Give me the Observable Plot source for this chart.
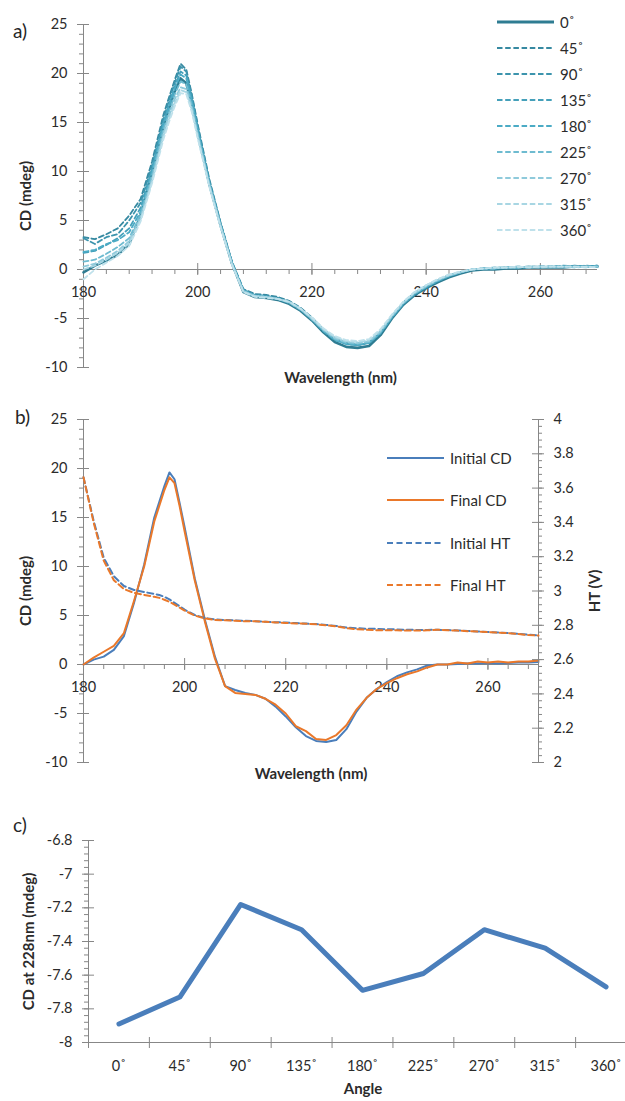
<!DOCTYPE html>
<html><head><meta charset="utf-8">
<script src="https://cdn.jsdelivr.net/npm/d3@7"></script>
<script src="https://cdn.jsdelivr.net/npm/@observablehq/plot@0.6"></script>
<style>
body{margin:0;background:#fff;font-family:Lato,"Open Sans",sans-serif;}
#wrap{position:relative;width:625px;height:1101px;overflow:hidden;background:#fff;}
.panel-label{position:absolute;font-size:19px;color:#262626;line-height:22px;}
.legend-row{position:absolute;display:flex;align-items:center;height:20px;font-size:15px;color:#2b2b2b;white-space:nowrap;}
</style></head><body><div id="wrap"></div><script>
// ---------------- DATA ----------------
const wavelengths = [180,182,184,186,188,190,192,194,195,196,197,198,199,200,202,204,206,208,210,212,214,216,218,220,222,224,226,228,230,232,234,236,238,240,242,244,246,248,250,252,254,256,258,260,262,264,266,268,270];

const angleLabels = ["0˚","45˚","90˚","135˚","180˚","225˚","270˚","315˚","360˚"];
const angles = [0,45,90,135,180,225,270,315,360];

// panel a: CD (mdeg) per rotation angle
const cd0   = [-0.3,0.4,0.9,1.5,2.6,5.5,9.8,14.6, 16.5,18.2,19.5,19.0,16.8, 14.0,8.8,4.5,0.6,-2.3,-2.8,-2.9,-3.1,-3.5,-4.2,-5.2,-6.4,-7.4,-7.9,-8.0,-7.8,-6.7,-5.0,-3.6,-2.6,-1.9,-1.3,-0.8,-0.4,-0.1,0.0,0.0,0.1,0.1,0.2,0.2,0.2,0.2,0.3,0.3,0.3];
const cd45  = [3.3,3.1,3.6,4.2,5.5,7.2,11.0,15.8, 17.6,19.4,21.0,20.4,17.8, 14.8,9.3,4.8,0.8,-2.0,-2.5,-2.6,-2.8,-3.2,-3.9,-4.9,-6.1,-7.0,-7.5,-7.7,-7.5,-6.5,-4.8,-3.4,-2.4,-1.7,-1.1,-0.6,-0.3,0.0,0.1,0.1,0.2,0.2,0.3,0.3,0.3,0.3,0.4,0.3,0.4];
const cd90  = [3.2,2.6,3.3,3.6,5.0,6.8,10.6,15.4, 17.3,19.1,20.7,20.2,17.6, 14.6,9.1,4.7,0.7,-2.1,-2.6,-2.7,-2.9,-3.3,-4.0,-5.0,-6.2,-7.1,-7.6,-7.7,-7.4,-6.4,-4.8,-3.4,-2.4,-1.7,-1.1,-0.6,-0.3,0.0,0.1,0.2,0.2,0.3,0.2,0.3,0.3,0.4,0.3,0.4,0.3];
const cd135 = [1.7,1.9,2.5,3.2,4.2,6.3,10.3,15.0, 16.9,18.7,20.2,19.8,17.3, 14.4,9.0,4.6,0.7,-2.1,-2.6,-2.7,-3.0,-3.3,-4.0,-5.0,-6.2,-7.1,-7.6,-7.7,-7.5,-6.5,-4.9,-3.5,-2.5,-1.8,-1.2,-0.7,-0.3,0.0,0.1,0.1,0.2,0.2,0.3,0.2,0.3,0.3,0.3,0.3,0.4];
const cd180 = [1.8,2.0,2.6,3.0,3.8,5.9,10.0,14.8, 16.7,18.5,19.9,19.5,17.1, 14.2,8.9,4.6,0.7,-2.2,-2.7,-2.8,-3.0,-3.4,-4.1,-5.1,-6.3,-7.2,-7.6,-7.7,-7.5,-6.5,-4.9,-3.5,-2.5,-1.8,-1.2,-0.7,-0.3,0.0,0.1,0.1,0.2,0.2,0.2,0.3,0.3,0.3,0.3,0.3,0.3];
const cd225 = [0.8,1.0,1.6,2.3,3.2,5.6,9.6,14.3, 16.1,17.9,19.2,18.9,16.7, 13.9,8.8,4.5,0.6,-2.2,-2.7,-2.8,-3.0,-3.4,-4.1,-5.1,-6.2,-7.1,-7.5,-7.6,-7.4,-6.4,-4.8,-3.4,-2.4,-1.7,-1.1,-0.6,-0.3,0.0,0.1,0.2,0.2,0.2,0.3,0.3,0.2,0.3,0.3,0.3,0.3];
const cd270 = [0.3,0.6,1.2,1.9,2.9,5.3,9.2,13.9, 15.7,17.4,18.6,18.4,16.4, 13.7,8.7,4.5,0.6,-2.2,-2.7,-2.8,-3.0,-3.3,-4.0,-5.0,-6.1,-7.0,-7.4,-7.5,-7.3,-6.3,-4.7,-3.4,-2.4,-1.7,-1.1,-0.6,-0.3,0.0,0.1,0.1,0.2,0.3,0.2,0.3,0.3,0.3,0.2,0.3,0.3];
const cd315 = [0.0,0.4,1.0,1.7,2.7,5.1,9.0,13.6, 15.4,17.0,18.3,18.1,16.2, 13.5,8.6,4.4,0.5,-2.3,-2.7,-2.8,-3.0,-3.3,-4.0,-5.0,-6.1,-6.9,-7.3,-7.4,-7.2,-6.2,-4.7,-3.3,-2.3,-1.6,-1.0,-0.6,-0.2,0.0,0.1,0.2,0.2,0.2,0.3,0.2,0.3,0.3,0.3,0.2,0.3];
const cd360 = [-1.0,0.0,0.7,1.4,2.4,4.9,8.8,13.3, 15.1,16.7,18.0,17.9,16.0, 13.4,8.5,4.3,0.5,-2.3,-2.8,-2.9,-3.0,-3.3,-4.0,-4.9,-6.0,-6.8,-7.2,-7.3,-7.1,-6.1,-4.6,-3.3,-2.3,-1.6,-1.0,-0.5,-0.2,0.0,0.1,0.2,0.2,0.3,0.2,0.3,0.3,0.3,0.3,0.3,0.2];
const aSeries = [cd0,cd45,cd90,cd135,cd180,cd225,cd270,cd315,cd360];

// panel b: CD (mdeg) and HT (V)
const initialCD = [0.0,0.5,0.8,1.5,2.9,6.3,10.2,15.0, 16.6,18.2,19.6,18.9,16.5, 14.0,8.8,4.6,0.8,-2.2,-2.6,-2.9,-3.1,-3.5,-4.3,-5.3,-6.4,-7.3,-7.8,-7.9,-7.7,-6.6,-4.8,-3.4,-2.5,-1.8,-1.2,-0.8,-0.5,-0.1,0.0,0.0,0.05,0.1,0.1,0.15,0.1,0.15,0.2,0.2,0.25];
const finalCD   = [0.0,0.7,1.3,1.9,3.2,6.5,10.0,14.6, 16.2,17.8,19.1,18.5,16.2, 13.6,8.6,4.4,0.6,-2.2,-2.9,-3.0,-3.1,-3.5,-4.1,-5.0,-6.3,-6.8,-7.6,-7.7,-7.2,-6.2,-4.6,-3.4,-2.5,-1.9,-1.4,-1.0,-0.7,-0.3,0.0,0.0,0.2,0.1,0.3,0.2,0.3,0.2,0.3,0.3,0.4];
const initialHT = [3.663,3.410,3.194,3.086,3.029,3.006,2.994,2.983, 2.977,2.966,2.951,2.931,2.911, 2.891,2.860,2.843,2.834,2.831,2.829,2.826,2.824,2.821,2.818,2.816,2.813,2.810,2.807,2.802,2.796,2.787,2.783,2.780,2.779,2.777,2.776,2.774,2.773,2.773,2.774,2.772,2.770,2.767,2.764,2.761,2.758,2.755,2.750,2.745,2.741];
const finalHT   = [3.663,3.400,3.177,3.063,3.011,2.989,2.977,2.966, 2.960,2.949,2.937,2.920,2.903, 2.886,2.857,2.840,2.831,2.829,2.826,2.823,2.823,2.820,2.817,2.814,2.811,2.809,2.806,2.800,2.794,2.783,2.777,2.774,2.771,2.771,2.771,2.769,2.769,2.771,2.774,2.771,2.769,2.766,2.763,2.760,2.757,2.754,2.749,2.743,2.740];
const bLabels = ["Initial CD","Final CD","Initial HT","Final HT"];

// panel c: CD at 228 nm per angle
const cdAt228 = [-7.89,-7.73,-7.18,-7.33,-7.69,-7.59,-7.33,-7.44,-7.67];

// ticks
const cdTicks = [-10,-5,0,5,10,15,20,25];
const wlTicks = [180,200,220,240,260];
const htTicks = [2,2.2,2.4,2.6,2.8,3,3.2,3.4,3.6,3.8,4];
const cTicks  = [-8,-7.8,-7.6,-7.4,-7.2,-7,-6.8];

// ---------------- STYLE ----------------
const gray = "#878787";
const txt = "#2b2b2b";
const aColors = ["#2E7C92","#3689A1","#3C94AD","#45A0BA","#4BABC5","#6EBBD0","#8FCADB","#A8D6E3","#BFE1EB"];
const blue = "#4A7EBB", orange = "#EA782A";
const baseStyle = {fontFamily: "Lato, 'Open Sans', sans-serif", fontSize: "14px", color: txt, background: "transparent"};
const wrap = document.getElementById("wrap");

function place(el, top) { el.style.position = "absolute"; el.style.left = "0px"; el.style.top = top + "px"; wrap.appendChild(el); }
function rows(vals) { return vals.map((v, j) => ({wl: wavelengths[j], v})); }

function leftAxisMarks(x0, ticks, minor, fmt, dx) {
  return [
    Plot.ruleX([x0], {stroke: gray, strokeWidth: 1}),
    Plot.ruleY(minor, {y: d => d, x1: x0, x2: x0, insetLeft: -4, insetRight: 0, stroke: gray}),
    Plot.ruleY(ticks, {y: d => d, x1: x0, x2: x0, insetLeft: -6, insetRight: -6, stroke: gray}),
    Plot.text(ticks, {x: x0, y: d => d, text: fmt, dx, textAnchor: "end", fill: txt, fontSize: 14.5})
  ];
}
function wlAxisMarks(y0) {
  const minor = d3.range(180, 271, 4);
  return [
    Plot.ruleY([y0], {stroke: gray}),
    Plot.ruleX(minor, {x: d => d, y1: y0, y2: y0, insetTop: 0, insetBottom: -5, stroke: gray}),
    Plot.ruleX(wlTicks, {x: d => d, y1: y0, y2: y0, insetTop: -6, insetBottom: -6, stroke: gray}),
    Plot.text(wlTicks, {x: d => d, y: y0, dy: 23, text: d => String(d), fill: txt, fontSize: 14.5})
  ];
}
function yTitle(label, side, dx) {
  return Plot.text([label], {frameAnchor: side, dx, rotate: -90, textAnchor: "middle", text: d => d, fontWeight: "bold", fontSize: 15, fill: txt});
}
function xTitle(label, dx, dy) {
  return Plot.text([label], {frameAnchor: "bottom", textAnchor: "middle", dx, dy, text: d => d, fontWeight: "bold", fontSize: 15, fill: txt});
}
function legend(items, x, y, step, w, gap) {
  items.forEach((it, i) => {
    const row = document.createElement("div");
    row.className = "legend-row";
    row.style.left = x + "px";
    row.style.top = (y + i * step - 10) + "px";
    row.innerHTML = `<svg width="${w}" height="20"><line x1="0" x2="${w}" y1="10" y2="10" stroke="${it.color}" stroke-width="${it.width}" ${it.dash ? `stroke-dasharray="${it.dash}"` : ""}/></svg><span style="margin-left:${gap}px">${it.label}</span>`;
    wrap.appendChild(row);
  });
}
function panelLabel(t, left, top) {
  const d = document.createElement("div");
  d.className = "panel-label"; d.textContent = t;
  d.style.left = left + "px"; d.style.top = top + "px";
  wrap.appendChild(d);
}

// ---------------- PANEL A ----------------
const plotA = Plot.plot({
  width: 625, height: 390,
  marginLeft: 83, marginRight: 28, marginTop: 24, marginBottom: 23,
  style: baseStyle,
  x: {domain: [180, 270], axis: null},
  y: {domain: [-10, 25], axis: null},
  marks: [
    ...leftAxisMarks(180, cdTicks, d3.range(-10, 26, 1), d => String(d), -16),
    ...wlAxisMarks(0),
    ...aSeries.map((vals, i) => Plot.line(rows(vals), {
      x: "wl", y: "v", stroke: aColors[i],
      strokeWidth: i === 0 ? 2.6 : 1.8,
      strokeDasharray: i === 0 ? null : "5,3",
      strokeLinejoin: "round"
    })),
    yTitle("CD (mdeg)", "left", -57),
    xTitle("Wavelength (nm)", 0, 15)
  ]
});
place(plotA, 0);
legend(angleLabels.map((l, i) => ({label: l, color: aColors[i], width: i === 0 ? 3 : 2, dash: i === 0 ? null : "5.5,2.7"})), 497, 22, 26, 57, 6);
panelLabel("a)", 13, 20);

// ---------------- PANEL B ----------------
const bOpts = {width: 625, height: 400, marginLeft: 83, marginRight: 87, marginTop: 29, marginBottom: 28, style: baseStyle};
const plotB = Plot.plot({
  ...bOpts,
  x: {domain: [180, 270], axis: null},
  y: {domain: [-10, 25], axis: null},
  marks: [
    ...leftAxisMarks(180, cdTicks, d3.range(-10, 26, 1), d => String(d), -16),
    ...wlAxisMarks(0),
    Plot.line(rows(initialCD), {x: "wl", y: "v", stroke: blue, strokeWidth: 2, strokeLinejoin: "round"}),
    Plot.line(rows(finalCD), {x: "wl", y: "v", stroke: orange, strokeWidth: 2, strokeLinejoin: "round"}),
    yTitle("CD (mdeg)", "left", -57),
    xTitle("Wavelength (nm)", 0, 16)
  ]
});
place(plotB, 390);
const plotB2 = Plot.plot({
  ...bOpts,
  x: {domain: [180, 270], axis: null},
  y: {domain: [2, 4], axis: null},
  marks: [
    Plot.ruleX([270], {stroke: gray}),
    Plot.ruleY(d3.range(0, 51).map(i => 2 + i * 0.04), {y: d => d, x1: 270, x2: 270, insetLeft: 0, insetRight: -4, stroke: gray}),
    Plot.ruleY(htTicks, {y: d => d, x1: 270, x2: 270, insetLeft: -6, insetRight: -6, stroke: gray}),
    Plot.text(htTicks, {x: 270, y: d => d, text: d => String(+d.toFixed(1)), dx: 15, textAnchor: "start", fill: txt, fontSize: 14.5}),
    Plot.line(rows(initialHT), {x: "wl", y: "v", stroke: blue, strokeWidth: 2, strokeDasharray: "6,3.5"}),
    Plot.line(rows(finalHT), {x: "wl", y: "v", stroke: orange, strokeWidth: 2, strokeDasharray: "6,3.5"}),
    yTitle("HT (V)", "right", 57)
  ]
});
place(plotB2, 390);
legend([
  {label: bLabels[0], color: blue, width: 2},
  {label: bLabels[1], color: orange, width: 2},
  {label: bLabels[2], color: blue, width: 2, dash: "6,3.5"},
  {label: bLabels[3], color: orange, width: 2, dash: "6,3.5"}
], 387, 458, 42.3, 57, 6);
panelLabel("b)", 15, 406);

// ---------------- PANEL C ----------------
const bounds = d3.range(0, 10).map(i => -22.5 + i * 45);
const plotC = Plot.plot({
  width: 625, height: 301,
  marginLeft: 88, marginRight: 0, marginTop: 40, marginBottom: 59,
  style: baseStyle,
  x: {domain: [-22.5, 382.5], range: [88, 636], axis: null},
  y: {domain: [-8, -6.8], axis: null},
  marks: [
    ...leftAxisMarks(-22.5, cTicks, d3.range(0, 31).map(i => -8 + i * 0.04), d => String(+d.toFixed(1)), -16),
    Plot.ruleY([-8], {stroke: gray}),
    Plot.ruleX(bounds, {x: d => d, y1: -8, y2: -8, insetTop: -5, insetBottom: -6, stroke: gray}),
    Plot.text(angles, {x: d => d, y: -8, dy: 24, text: (d, i) => angleLabels[i], fill: txt, fontSize: 14.5}),
    Plot.line(angles.map((a, i) => ({a, v: cdAt228[i]})), {x: "a", y: "v", stroke: blue, strokeWidth: 5, strokeLinejoin: "round"}),
    yTitle("CD at 228nm (mdeg)", "left", -59),
    xTitle("Angle", 6, 51)
  ]
});
place(plotC, 800);
panelLabel("c)", 13, 814);
</script></body></html>
